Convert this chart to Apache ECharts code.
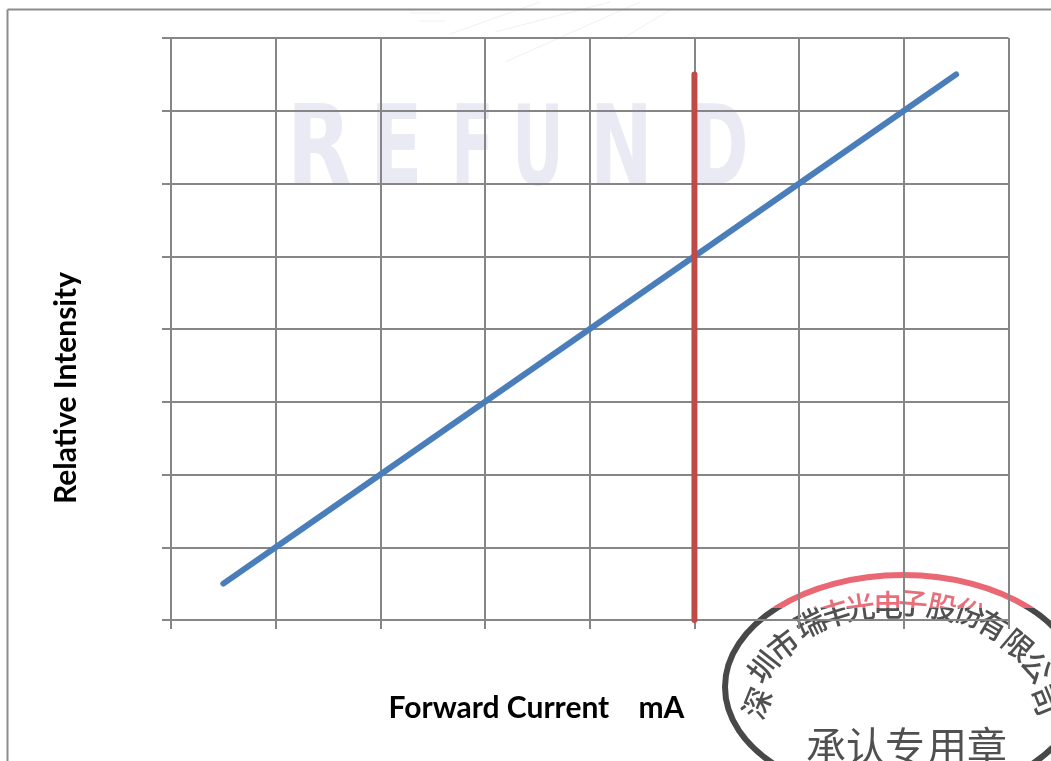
<!DOCTYPE html>
<html><head><meta charset="utf-8">
<style>html,body{margin:0;padding:0;background:#fff}#c{width:1051px;height:761px}</style>
<script src="https://cdn.jsdelivr.net/npm/echarts@6/dist/echarts.min.js"></script>
</head><body><div id="c"></div>
<script>
const xName = 'Forward Current    mA';
const yName = 'Relative Intensity';
const intensityX = [0.5, 1, 2, 3, 4, 5, 6, 7, 7.5];
const intensityY = [0.5, 1, 2, 3, 4, 5, 6, 7, 7.5];
const markerX = [5, 5];
const markerY = [0, 7.5];
const watermarkLetters = ['R','E','F','U','N','D'];
const watermarkX = [287, 370, 451, 512, 590, 691];
const watermarkScale = [0.76, 0.7, 0.57, 0.58, 0.68, 0.63];
const sealText = ['深','圳','市','瑞','丰','光','电','子','股','份','有','限','公','司'];
const sealX = [757,763,783,810,835,860,888,913,942,970,993,1018,1037,1045];
const sealY = [703,667,645,623,613,607,605,603,607,613,625,645,667,700];
const sealRot = [68,52,38,26,17,8,0,-5,-12,-20,-30,-40,-52,-68];
const sealBottom = ['承','认','专','用','章'];
const sealBottomX = [826,866,905,947,987];

const chart = echarts.init(document.getElementById('c'), null, {renderer:'canvas'});
const gridCol = '#868686';
const pairs = (a,b)=>a.map((v,i)=>[v,b[i]]);
const streak = (x1,y1,x2,y2)=>({type:'line', z:-6, silent:true, shape:{x1,y1,x2,y2}, style:{stroke:'#f1f1f6',lineWidth:1}});
const graphic = [
  {type:'line', z:-5, silent:true, shape:{x1:7.5,y1:9.5,x2:1051,y2:9.5}, style:{stroke:'#8c8c8c',lineWidth:2}},
  {type:'line', z:-5, silent:true, shape:{x1:7.5,y1:9.5,x2:7.5,y2:761}, style:{stroke:'#8c8c8c',lineWidth:2}},
  streak(450,34,540,2), streak(505,62,640,2), streak(495,32,610,2), streak(620,40,670,10), streak(410,13,440,13), streak(420,21,445,21),
  ...watermarkLetters.map((t,i)=>({type:'text', z:-6, silent:true, x:watermarkX[i], y:100, scaleX:watermarkScale[i],
    style:{text:t, fill:'#e9eaf3', font:'bold 110px "DejaVu Sans"'}})),
  {type:'ellipse', z:-5, silent:true, shape:{cx:903,cy:687,rx:178,ry:112}, style:{fill:'none',stroke:'#484848',lineWidth:6}},
  ...sealText.map((t,i)=>({type:'text', z:-5, silent:true, x:sealX[i], y:sealY[i], rotation:sealRot[i]*Math.PI/180,
    style:{text:t, fill:'#505050', font:'500 30px "Noto Sans CJK SC"', align:'center', verticalAlign:'middle'}})),
  ...sealBottom.map((t,i)=>({type:'text', z:-5, silent:true, x:sealBottomX[i], y:746,
    style:{text:t, fill:'#505050', font:'40px "Noto Sans CJK SC"', align:'center', verticalAlign:'middle'}})),
  {type:'rect', z:-4, silent:true, shape:{x:740,y:565,width:311,height:43}, style:{fill:'#e02c3c', blend:'screen'}},
  {type:'text', silent:true, x:536.5, y:708, style:{text:xName, fill:'#000', font:'bold 30px Lato', align:'center', verticalAlign:'middle'}},
  {type:'text', silent:true, x:66, y:388, rotation:Math.PI/2, style:{text:yName, fill:'#000', font:'bold 30px Lato', align:'center', verticalAlign:'middle'}}
];
const axisCommon = {
  type:'value', min:0, max:8, interval:1,
  axisLabel:{show:false},
  axisLine:{show:true,onZero:false,lineStyle:{color:gridCol,width:2}},
  axisTick:{show:true,length:9,lineStyle:{color:gridCol,width:2}},
  splitLine:{show:true,lineStyle:{color:gridCol,width:2}}
};
chart.setOption({
  backgroundColor:'#ffffff',
  animation:false,
  grid:{left:171,top:38,width:837.5,height:582},
  xAxis:axisCommon,
  yAxis:axisCommon,
  graphic:graphic,
  series:[
    {type:'line',data:pairs(intensityX,intensityY),showSymbol:false,symbol:'none',lineStyle:{color:'#4a7ebb',width:6,cap:'round'},z:3},
    {type:'line',data:pairs(markerX,markerY),showSymbol:false,symbol:'none',lineStyle:{color:'#be4b48',width:6,cap:'round'},z:4}
  ]
});
</script></body></html>
